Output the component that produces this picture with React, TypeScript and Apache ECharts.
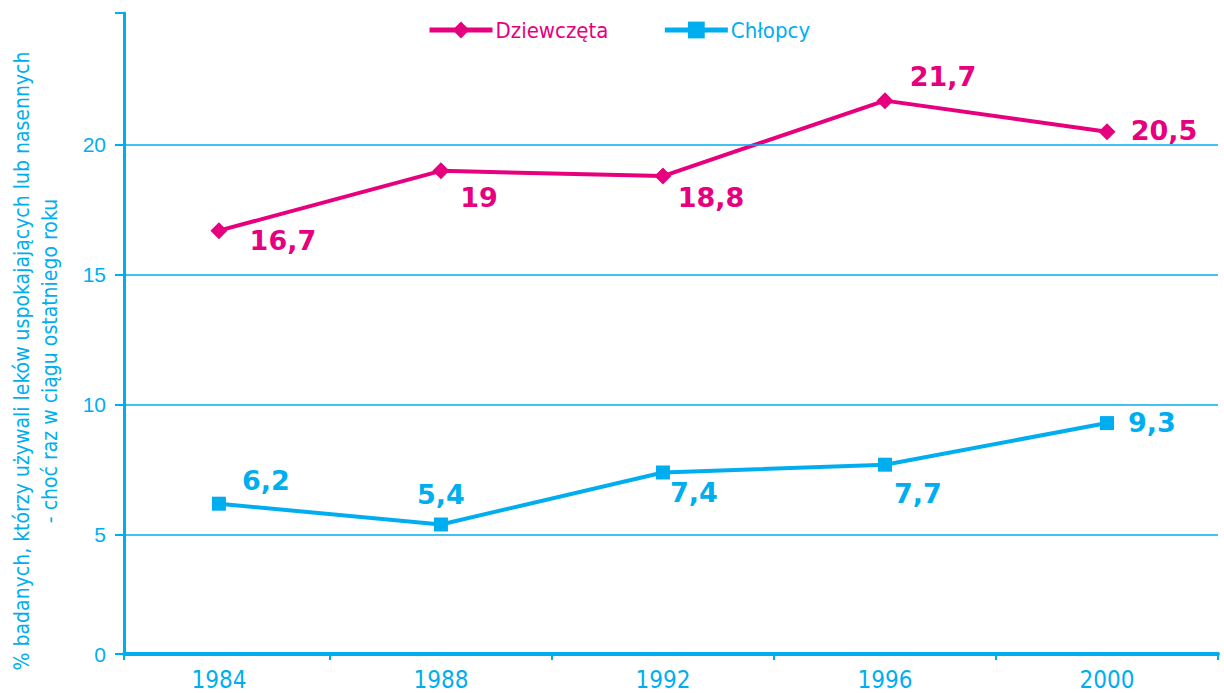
import React, { useEffect, useRef } from "react";
import * as echarts from "echarts";

const years = [1984, 1988, 1992, 1996, 2000];
const girls = [16.7, 19, 18.8, 21.7, 20.5];
const boys = [6.2, 5.4, 7.4, 7.7, 9.3];
const seriesNames = ["Dziewczęta", "Chłopcy"];
const yTickLabels = [5, 10, 15, 20];
const xTicks = [1986, 1990, 1994, 1998, 2002];
const girlsLabelOffsets = [[64, 10], [38, 27], [48, 21], [58, -24], [57, -1]];
const boysLabelOffsets = [[47, -23], [0, -30], [31, 20], [33, 29], [45, -1]];

const PINK = "#E6007E";
const BLUE = "#00AEEF";
const Y_MIN = 0.42;
const Y_MAX = 25.07;
const X_MIN = 1982.29;
const X_MAX = 2002;
const NARROW = "'DejaVu Sans Condensed', 'Roboto Condensed', Roboto, sans-serif";

const fmt = (v: number) => String(v).replace(".", ",");

export default function App() {
  const ref = useRef<HTMLDivElement>(null);
  useEffect(() => {
    const chart = echarts.init(ref.current!, null, { renderer: "svg" });
    const mkData = (vals: number[], offs: number[][], color: string) =>
      vals.map((v, i) => ({
        value: [years[i], v],
        label: {
          show: true,
          position: "inside",
          offset: offs[i],
          formatter: fmt(v),
          color,
          fontFamily: "DejaVu Sans",
          fontWeight: "bold",
          fontSize: 27,
        },
      }));
    const gridStyle = { color: BLUE, width: 1.6, type: "solid" as const, opacity: 1 };
    chart.setOption({
      animation: false,
      grid: { left: 124, right: 6, top: 13, bottom: 39 },
      legend: {
        left: 422,
        top: 14,
        itemWidth: 63,
        itemHeight: 21,
        itemGap: 54,
        lineStyle: { width: 5 },
        data: [
          { name: seriesNames[0], textStyle: { color: PINK } },
          { name: seriesNames[1], textStyle: { color: BLUE } },
        ],
        textStyle: { fontFamily: NARROW, fontSize: 22, padding: [0, 0, 0, -2] },
      },
      xAxis: {
        type: "value",
        min: X_MIN,
        max: X_MAX,
        axisLine: { show: true, lineStyle: { color: BLUE, width: 4 } },
        axisTick: {
          show: true,
          length: 6,
          lineStyle: { color: BLUE, width: 2 },
          customValues: [X_MIN, ...xTicks],
        },
        axisLabel: {
          customValues: years,
          margin: 14,
          color: BLUE,
          fontFamily: NARROW,
          fontSize: 24,
          formatter: (v: number) => String(Math.round(v)),
        },
        splitLine: { show: false },
      },
      yAxis: {
        type: "value",
        min: Y_MIN,
        max: Y_MAX,
        axisLine: { show: true, lineStyle: { color: BLUE, width: 3 } },
        axisTick: {
          show: true,
          length: 9,
          lineStyle: { color: BLUE, width: 2 },
          customValues: [Y_MIN, ...yTickLabels, Y_MAX],
        },
        axisLabel: {
          customValues: [Y_MIN, ...yTickLabels],
          margin: 18,
          color: BLUE,
          fontFamily: "Liberation Sans",
          fontSize: 21,
          formatter: (v: number) => (v < 1 ? "0" : String(Math.round(v))),
        },
        splitLine: { show: false },
      },
      graphic: [
        {
          type: "text",
          x: 36,
          y: 361,
          rotation: Math.PI / 2,
          style: {
            text:
              "% badanych, którzy używali leków uspokajających lub nasennych\n- choć raz w ciągu ostatniego roku",
            fill: BLUE,
            fontFamily: NARROW,
            fontSize: 21,
            lineHeight: 28,
            align: "center",
            verticalAlign: "middle",
          },
        },
      ],
      series: [
        {
          name: seriesNames[0],
          type: "line",
          data: mkData(girls, girlsLabelOffsets, PINK),
          symbol: "diamond",
          symbolSize: 17,
          itemStyle: { color: PINK },
          lineStyle: { color: PINK, width: 4 },
          z: 3,
          markLine: {
            silent: true,
            symbol: "none",
            label: { show: false },
            lineStyle: gridStyle,
            emphasis: { disabled: true },
            data: yTickLabels.map((v) => ({ yAxis: v, lineStyle: gridStyle })),
          },
        },
        {
          name: seriesNames[1],
          type: "line",
          data: mkData(boys, boysLabelOffsets, BLUE),
          symbol: "rect",
          symbolSize: 14,
          itemStyle: { color: BLUE },
          lineStyle: { color: BLUE, width: 4 },
          z: 3,
        },
      ],
    });
    return () => chart.dispose();
  }, []);
  return (
    <div
      ref={ref}
      style={{ position: "fixed", left: 0, top: 0, width: 1224, height: 693, background: "#fff" }}
    />
  );
}
